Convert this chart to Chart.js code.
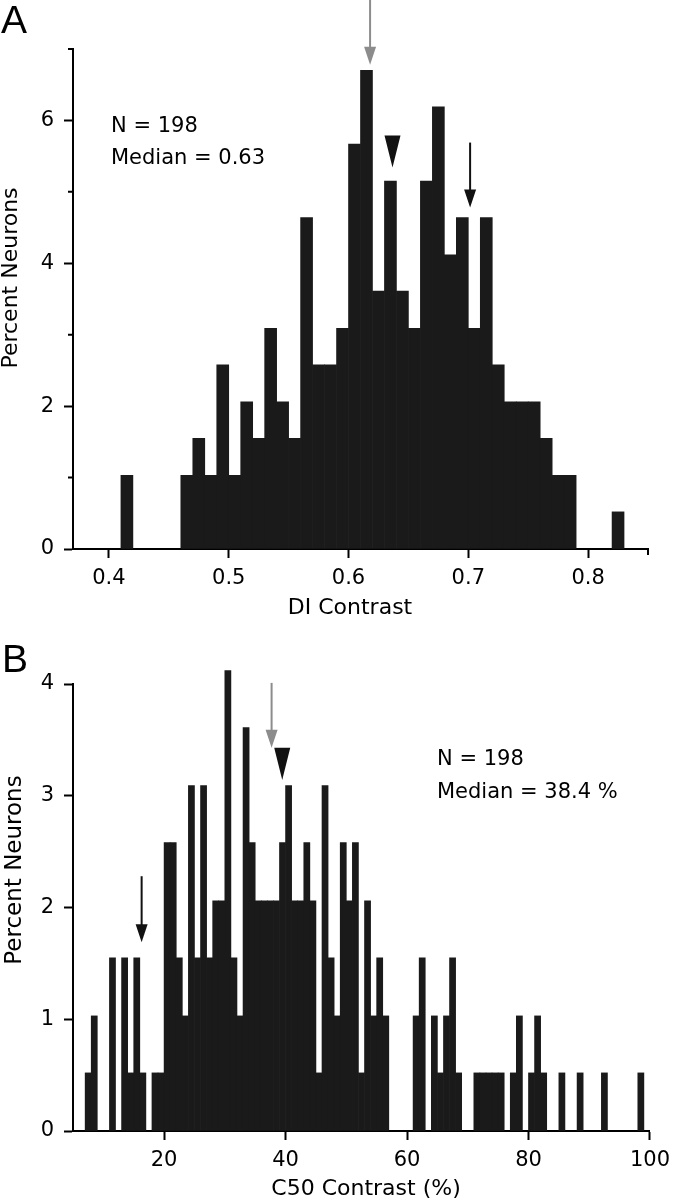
<!DOCTYPE html>
<html>
<head>
<meta charset="utf-8">
<script src="https://cdn.jsdelivr.net/npm/chart.js@4.4.1/dist/chart.umd.min.js"></script>
<style>
  body { margin: 0; background: #fff; }
  #wrap { position: relative; width: 678px; height: 1200px; }
  canvas { position: absolute; left: 0; }
</style>
</head>
<body>
<div id="wrap">
  <canvas id="chart-a" width="678" height="620" style="top:0"></canvas>
  <canvas id="chart-b" width="678" height="580" style="top:620px"></canvas>
</div>
<script>
// Panel A: DI contrast, bins 0.01 wide (left edges), percent of neurons
const binWidthA = 0.01;
const binStartA = [0.41, 0.46, 0.47, 0.48, 0.49, 0.50, 0.51, 0.52, 0.53, 0.54, 0.55,
  0.56, 0.57, 0.58, 0.59, 0.60, 0.61, 0.62, 0.63, 0.64, 0.65, 0.66, 0.67, 0.68,
  0.69, 0.70, 0.71, 0.72, 0.73, 0.74, 0.75, 0.76, 0.77, 0.78, 0.82];
const pctA = [1.03, 1.03, 1.55, 1.03, 2.58, 1.03, 2.06, 1.55, 3.09, 2.06, 1.55,
  4.64, 2.58, 2.58, 3.09, 5.67, 6.70, 3.61, 5.15, 3.61, 3.09, 5.15, 6.19, 4.12,
  4.64, 3.09, 4.64, 2.58, 2.06, 2.06, 2.06, 1.55, 1.03, 1.03, 0.52];
const xTicksA = [0.4, 0.5, 0.6, 0.7, 0.8];
const xMinorA = [0.85];
const yTicksA = [0, 2, 4, 6];
const yMinorA = [1, 3, 5, 7];

// Panel B: C50 contrast (%), bins 1 wide (left edges)
const binWidthB = 1;
const binStartB = [7, 8, 11, 13, 14, 15, 16, 18, 19,
  20, 21, 22, 23, 24, 25, 26, 27, 28, 29,
  30, 31, 32, 33, 34, 35, 36, 37, 38, 39,
  40, 41, 42, 43, 44, 45, 46, 47, 48, 49,
  50, 51, 52, 53, 54, 55, 56,
  61, 62, 64, 65, 66, 67, 68,
  71, 72, 73, 74, 75, 77, 78, 80, 81, 82,
  85, 88, 92, 98];
const pctB = [0.52, 1.03, 1.55, 1.55, 0.52, 1.55, 0.52, 0.52, 0.52,
  2.58, 2.58, 1.55, 1.03, 3.09, 1.55, 3.09, 1.55, 2.06, 2.06,
  4.12, 1.55, 1.03, 3.61, 2.58, 2.06, 2.06, 2.06, 2.06, 2.58,
  3.09, 2.06, 2.06, 2.58, 2.06, 0.52, 3.09, 1.55, 1.03, 2.58,
  2.06, 2.58, 0.52, 2.06, 1.03, 1.55, 1.03,
  1.03, 1.55, 1.03, 0.52, 1.03, 1.55, 0.52,
  0.52, 0.52, 0.52, 0.52, 0.52, 0.52, 1.03, 0.52, 1.03, 0.52,
  0.52, 0.52, 0.52, 0.52];
const xTicksB = [20, 40, 60, 80, 100];
const yTicksB = [0, 1, 2, 3, 4];

// arrows / median markers, in data units
const arrowsA = [
  { x: 0.618, top: 7.7, tip: 6.78, color: '#8c8c8c' },
  { x: 0.7015, top: 5.69, tip: 4.78, color: '#111' },
];
const markersA = [{ x: 0.6367, top: 5.79, tip: 5.34 }];
const arrowsB = [
  { x: 37.7, top: 4.01, tip: 3.43, color: '#8c8c8c' },
  { x: 16.3, top: 2.28, tip: 1.69, color: '#111' },
];
const markersB = [{ x: 39.45, top: 3.43, tip: 3.14 }];

Chart.defaults.font.family = "'DejaVu Sans', sans-serif";
Chart.defaults.color = '#000';

function overlay(o) {
  return {
    id: 'overlay',
    afterDraw(chart) {
      const c = chart.ctx, xs = chart.scales.x, ys = chart.scales.y, area = chart.chartArea;
      c.save();
      c.lineWidth = 2;
      c.strokeStyle = '#000';
      c.beginPath();
      o.yMinor.forEach(v => {
        const py = ys.getPixelForValue(v);
        c.moveTo(area.left - 5, py); c.lineTo(area.left, py);
      });
      o.xMinor.forEach(v => {
        const px = xs.getPixelForValue(v);
        c.moveTo(px, area.bottom); c.lineTo(px, area.bottom + 6);
      });
      c.stroke();

      o.arrows.forEach(a => {
        const px = xs.getPixelForValue(a.x);
        const top = ys.getPixelForValue(a.top), tip = ys.getPixelForValue(a.tip);
        c.strokeStyle = a.color; c.fillStyle = a.color;
        c.beginPath(); c.moveTo(px, top); c.lineTo(px, tip - 12); c.stroke();
        c.beginPath();
        c.moveTo(px - 6, tip - 18); c.lineTo(px + 6, tip - 18); c.lineTo(px, tip);
        c.closePath(); c.fill();
      });
      o.markers.forEach(m => {
        const px = xs.getPixelForValue(m.x);
        const top = ys.getPixelForValue(m.top), tip = ys.getPixelForValue(m.tip);
        c.fillStyle = '#111';
        c.beginPath();
        c.moveTo(px - 8, top); c.lineTo(px + 8, top); c.lineTo(px, tip);
        c.closePath(); c.fill();
      });

      c.fillStyle = '#000';
      c.textBaseline = 'alphabetic';
      c.textAlign = 'left';
      c.font = "39px 'Liberation Sans', Arial, sans-serif";
      c.fillText(o.letter.text, o.letter.x, o.letter.y);
      c.font = "21px 'DejaVu Sans', sans-serif";
      o.notes.forEach(n => c.fillText(n.text, n.x, n.y));

      c.textAlign = 'center';
      c.font = o.xTitle.size + "px 'DejaVu Sans', sans-serif";
      c.fillText(o.xTitle.text, o.xTitle.x, o.xTitle.y);
      c.font = o.yTitle.size + "px 'DejaVu Sans', sans-serif";
      c.translate(o.yTitle.x, o.yTitle.y);
      c.rotate(-Math.PI / 2);
      c.fillText(o.yTitle.text, 0, 0);
      c.restore();
    }
  };
}

function histogram(id, o) {
  const ctx = document.getElementById(id).getContext('2d');
  return new Chart(ctx, {
    type: 'bar',
    data: {
      datasets: [{
        data: o.starts.map((s, i) => ({ x: s + o.binWidth / 2, y: o.values[i] })),
        backgroundColor: '#1a1a1a',
        borderWidth: 0,
        barPercentage: 1,
        categoryPercentage: 1,
        clip: false,
      }],
    },
    options: {
      responsive: false,
      animation: false,
      events: [],
      layout: { padding: o.padding },
      plugins: { legend: { display: false }, tooltip: { enabled: false } },
      scales: {
        x: {
          type: 'linear',
          min: o.xMin, max: o.xMax,
          offset: false,
          afterBuildTicks: s => { s.ticks = o.xTicks.map(v => ({ value: v })); },
          afterFit: s => { s.height = o.xHeight; },
          grid: { offset: false, drawOnChartArea: false, tickLength: 9, tickWidth: 2, tickColor: '#000' },
          border: { color: '#000', width: 2 },
          ticks: { autoSkip: false, maxRotation: 0, padding: 8, font: { size: 21 }, callback: o.xFormat },
        },
        y: {
          min: 0, max: o.yMax,
          afterBuildTicks: s => { s.ticks = o.yTicks.map(v => ({ value: v })); },
          afterFit: s => { s.width = 73; },
          grid: { drawOnChartArea: false, tickLength: 9, tickWidth: 2, tickColor: '#000' },
          border: { color: '#000', width: 2 },
          ticks: { autoSkip: false, padding: 10, font: { size: 21 }, callback: v => String(v) },
        },
      },
    },
    plugins: [overlay(o)],
  });
}

histogram('chart-a', {
  starts: binStartA, values: pctA, binWidth: binWidthA,
  xMin: 0.37, xMax: 0.85, yMax: 7,
  xTicks: xTicksA, yTicks: yTicksA, xMinor: xMinorA, yMinor: yMinorA,
  xFormat: v => v.toFixed(1),
  padding: { top: 49, right: 30, bottom: 0, left: 0 },
  xHeight: 71,
  arrows: arrowsA, markers: markersA,
  letter: { text: 'A', x: 1, y: 33 },
  notes: [{ text: 'N = 198', x: 111, y: 132 }, { text: 'Median = 0.63', x: 111, y: 164 }],
  xTitle: { text: 'DI Contrast', x: 350, y: 614, size: 22 },
  yTitle: { text: 'Percent Neurons', x: 16.5, y: 278, size: 22 },
});

histogram('chart-b', {
  starts: binStartB, values: pctB, binWidth: binWidthB,
  xMin: 5, xMax: 100, yMax: 4,
  xTicks: xTicksB, yTicks: yTicksB, xMinor: [], yMinor: [],
  xFormat: v => String(v),
  padding: { top: 64, right: 22, bottom: 0, left: 0 },
  xHeight: 69,
  arrows: arrowsB, markers: markersB,
  letter: { text: 'B', x: 2, y: 52 },
  notes: [{ text: 'N = 198', x: 437, y: 145 }, { text: 'Median = 38.4 %', x: 437, y: 178 }],
  xTitle: { text: 'C50 Contrast (%)', x: 366, y: 575, size: 22 },
  yTitle: { text: 'Percent Neurons', x: 20.5, y: 250, size: 23 },
});
</script>
</body>
</html>
